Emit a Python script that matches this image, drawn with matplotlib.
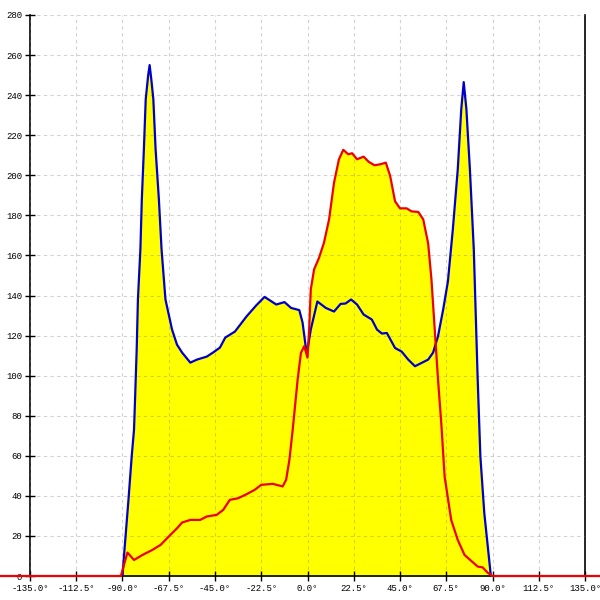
import matplotlib
matplotlib.use('Agg')
import matplotlib.pyplot as plt

# угловые отсчёты и значения двух кривых
blue_deg = [-90, -89.2, -87.1, -85.5, -84.4, -83.9, -83.1, -82.5, -81.3, -80.6,
            -79.6, -78.7, -77.5, -76.8, -76, -75, -73.9, -72.3, -71, -69.1,
            -65.9, -63.5, -61, -57, -53.8, -49, -46, -42.6, -40, -35.3,
            -29.7, -25, -20.9, -15.2, -11.2, -8, -4, -2.4, -0.8, 0,
            1.6, 4.8, 8.9, 12.9, 16.1, 18.5, 21.2, 24.1, 27.3, 31.3,
            33.8, 36.2, 38.6, 42.6, 45.8, 49, 52.3, 58.7, 61.1, 63.5,
            66, 68.3, 70.7, 73.1, 74.8, 76, 77.3, 79, 80.9, 82.8,
            84.1, 86, 89.2]
blue_val = [0, 11, 38, 60, 73, 88, 113, 138, 163, 188,
            213, 238, 250, 255, 248, 238, 213, 188, 163, 138,
            123, 115.5, 111.5, 106.5, 108, 109.5, 111.5, 114, 119, 122,
            129.5, 135, 139.3, 135.5, 136.7, 133.8, 132.7, 126.5, 114, 113,
            123, 137, 133.8, 132, 135.8, 136, 138, 135.5, 130.5, 128,
            123, 121, 121.3, 113.8, 112, 108, 104.7, 108, 111.5, 119.7,
            133, 147, 173, 203, 233, 246.5, 233, 203, 163, 98,
            59.7, 31.5, 0]

red_deg = [-150, -90.8, -87.6, -84.4, -80.3, -75.5, -71.5, -66.7, -63.5, -61,
           -57, -52.2, -49, -44.2, -41, -37.8, -33.8, -29.7, -25.7, -22.5,
           -16.9, -12.1, -10.4, -8.8, -7.2, -4.8, -3.2, -1.6, 0, 0.8,
           1.6, 3.2, 5.6, 8, 10.5, 12.9, 15.3, 17.4, 19.8, 21.7,
           24.1, 27.3, 29.8, 32.6, 35.4, 38.1, 40.2, 42.6, 45, 48.2,
           50.6, 53.9, 56.3, 58.7, 60.3, 61.9, 63.5, 65.1, 66.7, 69.9,
           73.1, 76.4, 82.8, 85.2, 87.6, 90, 150]
red_val = [0, 0, 11.7, 8, 10.5, 13, 15.5, 20.5, 23.8, 26.7,
           28, 28, 29.7, 30.5, 33, 38, 38.8, 40.8, 43, 45.5,
           46, 44.7, 48, 58, 73, 98, 111.3, 114.7, 109, 123,
           143, 153, 158.8, 166.3, 178, 196.3, 208, 212.7, 210.5, 211,
           208, 209.3, 206.7, 205, 205.5, 206.3, 199.7, 187, 183.5, 183.5,
           182, 181.7, 178, 166, 148, 123, 98, 76, 49.7, 28,
           18, 10.5, 4.7, 4.3, 1.7, 0, 0]

x_ticks = [-135 + 22.5 * i for i in range(13)]
y_ticks = list(range(0, 281, 20))

fig = plt.figure(figsize=(6, 6), dpi=100)
ax = fig.add_axes([0.05, 0.04, 0.925, 0.935])

ax.fill_between(blue_deg, blue_val, color='#ffff00', lw=0, zorder=1)
ax.fill_between(red_deg, red_val, color='#ffff00', lw=0, zorder=1)
ax.plot(blue_deg, blue_val, color='#0000cc', lw=1.6, zorder=3)
ax.plot(red_deg, red_val, color='#ee0000', lw=1.6, zorder=4, clip_on=False)

ax.set_xlim(-135, 135)
ax.set_ylim(0, 280)
ax.set_xticks(x_ticks)
ax.set_xticklabels([f'{v:.1f}°' for v in x_ticks])
ax.set_yticks(y_ticks)
ax.set_yticklabels([str(v) for v in y_ticks])
ax.grid(True, color='#808080', alpha=0.35, ls=(0, (3, 3)), lw=0.8, zorder=2)
ax.set_axisbelow(False)

ax.spines['top'].set_visible(False)
for s in ('left', 'right', 'bottom'):
    ax.spines[s].set_color('black')
    ax.spines[s].set_linewidth(1.2)
ax.tick_params(direction='inout', length=7, width=1, labelsize=6.5,
               pad=2, right=False, top=False)
for lab in ax.get_xticklabels() + ax.get_yticklabels():
    lab.set_family('Liberation Mono')

fig.savefig('out.png')
